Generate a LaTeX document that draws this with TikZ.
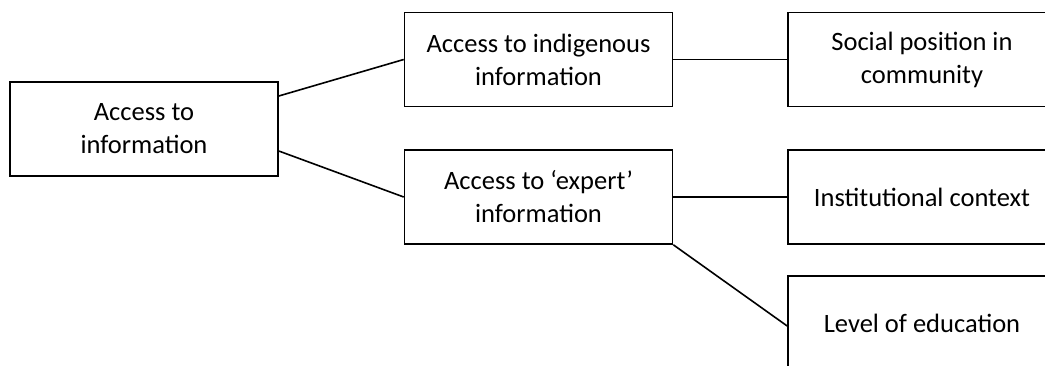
\documentclass[tikz,border=0pt]{standalone}
\usepackage{fontspec}
\setmainfont{Carlito}
\usetikzlibrary{calc}
\tikzset{box/.style={draw,line width=1.6pt,minimum width=268pt,minimum height=94pt,align=center,inner sep=0pt,font=\fontsize{26.5}{33}\selectfont}}

\begin{document}
\begin{tikzpicture}[x=1pt,y=1pt]
                    \useasboundingbox (0,0) rectangle (1045,-365);
                    \node[box] (A) at (144,-129) {Access to\\information};
                    \node[box] (B) at (538.5,-59.5) {Access to indigenous\\information};
                    \node[box] (C) at (922,-59.5) {Social position in\\community};
                    \node[box] (D) at (538.5,-197) {Access to `expert'\\information};
                    \node[box] (E) at (922,-197) {Institutional context};
                    \node[box] (F) at (922,-323) {Level of education};

                    \draw[line width=1.6pt] ([yshift=33pt]A.east) -- (B.west);
                    \draw[line width=1.6pt] ([yshift=-22pt]A.east) -- (D.west);
                    \draw[line width=1.6pt] (B.east) -- (C.west);
                    \draw[line width=1.6pt] (D.east) -- (E.west);
                    \draw[line width=1.6pt] (D.south east) -- ([yshift=-3pt]F.west);
                \end{tikzpicture}
\end{document}
